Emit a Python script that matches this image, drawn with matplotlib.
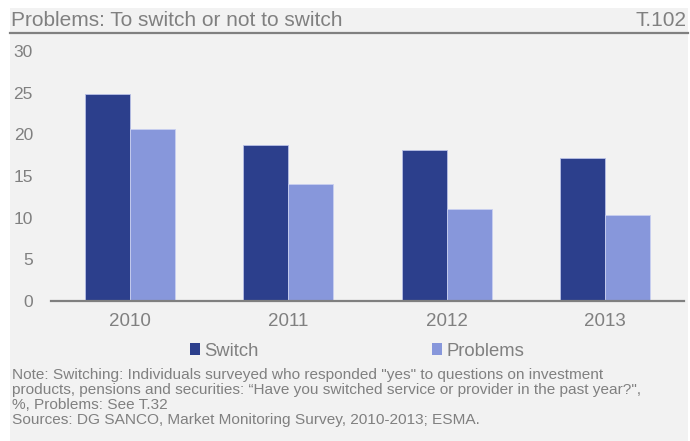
import matplotlib
matplotlib.use("Agg")
import matplotlib.pyplot as plt
from matplotlib.patches import Rectangle, Patch
from matplotlib.lines import Line2D
import numpy as np

plt.rcParams['font.family'] = ['Liberation Sans', 'DejaVu Sans']

years = ["2010", "2011", "2012", "2013"]
switch = [24.8, 18.7, 18.1, 17.2]
problems = [20.6, 14.1, 11.1, 10.35]
yticks = [0, 5, 10, 15, 20, 25, 30]

title = "Problems: To switch or not to switch"
chart_id = "T.102"
note = ("Note: Switching: Individuals surveyed who responded \"yes\" to questions on investment\n"
        "products, pensions and securities: \u201cHave you switched service or provider in the past year?\",\n"
        "%, Problems: See T.32\n"
        "Sources: DG SANCO, Market Monitoring Survey, 2010-2013; ESMA.")

dark = "#2c3f8c"
light = "#8797db"
grey = "#808080"
bg = "#f2f2f2"

W, H = 690, 441
fig = plt.figure(figsize=(W / 100, H / 100), dpi=100)
fig.patch.set_facecolor("white")
# grey panel
fig.add_artist(Rectangle((10 / W, 0), 678 / W, 433 / H, transform=fig.transFigure,
                         facecolor=bg, edgecolor="none", zorder=0))

# title bar
fig.text(11 / W, (H - 21) / H, title, fontsize=15, color=grey, ha="left", va="center")
fig.text(687 / W, (H - 21) / H, chart_id, fontsize=15, color=grey, ha="right", va="center")
fig.add_artist(Line2D([10 / W, 688 / W], [(H - 33) / H] * 2, transform=fig.transFigure,
                      color=grey, linewidth=1.6))

ax = fig.add_axes([51 / W, 140 / H, 633 / W, 250 / H])
ax.set_facecolor(bg)
x = np.arange(len(years))
bw = 0.285
ax.bar(x - bw / 2, switch, bw, color=dark, edgecolor="#b9c0e6", linewidth=0.6, label="Switch")
ax.bar(x + bw / 2, problems, bw, color=light, edgecolor="#c9cff0", linewidth=0.6, label="Problems")

ax.set_xlim(-0.5, len(years) - 0.5)
ax.set_ylim(0, 30)
ax.set_yticks(yticks)
ax.set_xticks(x)
ax.set_xticklabels(years)
for s in ["top", "right", "left"]:
    ax.spines[s].set_visible(False)
ax.spines["bottom"].set_color(grey)
ax.spines["bottom"].set_linewidth(1.6)
ax.tick_params(axis="y", length=0, pad=13, labelsize=12.5, labelcolor=grey)
ax.tick_params(axis="x", length=0, pad=9, labelsize=13.5, labelcolor=grey)

handles = [Patch(facecolor=dark, edgecolor="none"), Patch(facecolor=light, edgecolor="none")]
fig.legend(handles, ["Switch", "Problems"], loc="center", bbox_to_anchor=(357 / W, 90 / H),
           ncol=2, frameon=False, fontsize=13.3, labelcolor=grey,
           handlelength=0.55, handleheight=0.55, handletextpad=0.22, columnspacing=9.4)

fig.text(12 / W, (H - 368) / H, note, fontsize=11.1, color=grey, ha="left", va="top",
         linespacing=1.1)

fig.savefig("out.png", dpi=100, facecolor=fig.get_facecolor())
